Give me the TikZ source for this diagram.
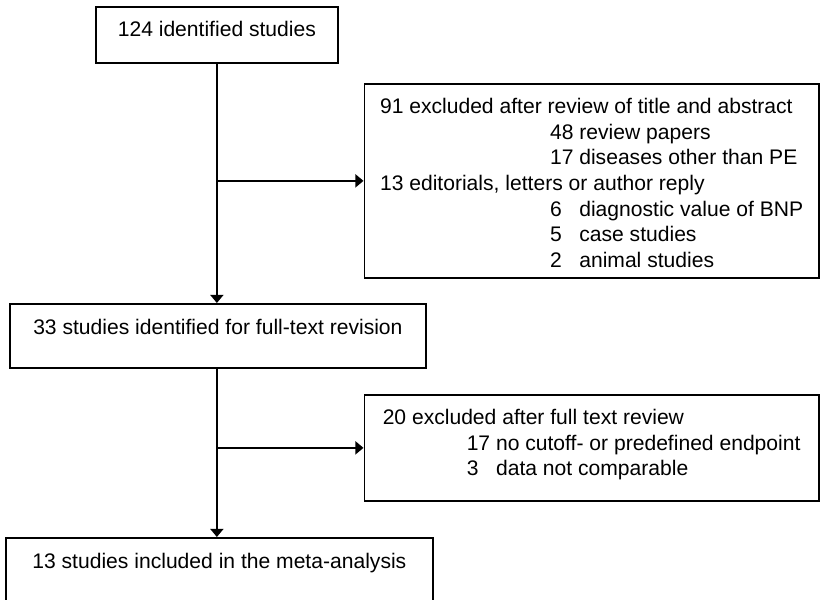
\documentclass[tikz,border=0pt]{standalone}
\usepackage{fontspec}
\setmainfont{Liberation Sans}
\usetikzlibrary{arrows.meta}
\tikzset{stagebox/.style={
            draw,
            line width=1pt,
            inner xsep=0pt,
            inner ysep=0pt,
            anchor=north west,
            font=\fontsize{12pt}{14.6pt}\selectfont
        },
        exclbox/.style={
            stagebox,
            align=left,
            minimum width=9.09cm
        },
        flow/.style={
            line width=1pt,
            -{Triangle[length=4.6pt,width=7.4pt]}
        }
    }

\begin{document}
\begin{tikzpicture}
        \useasboundingbox (0,0) rectangle (16.46,11.98);
        \node[stagebox,minimum width=4.84cm,text height=0.59cm,text depth=0.53cm] at (1.90,11.86) (identified) {124 identified studies};
        % baseline of a multi-line node is its last line
        \node[exclbox,text height=3.67cm,text depth=0.21cm] at (7.27,10.32) (excltitle) {91 excluded after review of title and abstract\\
            \hspace*{3.4cm}48 review papers\\
            \hspace*{3.4cm}17 diseases other than PE\\
            13 editorials, letters or author reply\\
            \hspace*{3.4cm}6\phantom{8} diagnostic value of BNP\\
            \hspace*{3.4cm}5\phantom{8} case studies\\
            \hspace*{3.4cm}2\phantom{8} animal studies};
        \node[stagebox,minimum width=8.32cm,text height=0.61cm,text depth=0.67cm] at (0.18,5.92) (fulltext) {33 studies identified for full-text revision};
        \node[exclbox,text height=1.62cm,text depth=0.50cm] at (7.27,4.10) (exclfull) {20 excluded after full text review\\
            \hspace*{1.68cm}17 no cutoff- or predefined endpoint\\
            \hspace*{1.68cm}3\phantom{7} data not comparable};
        \node[stagebox,minimum width=8.54cm,text height=0.61cm,text depth=1.05cm] at (0.10,1.24) (included) {13 studies included in the meta-analysis};
        % flow lines
        \coordinate (split1) at (identified.south |- excltitle.west);
        \coordinate (split2) at (identified.south |- exclfull.west);
        \draw[flow] (identified.south) -- (identified.south |- fulltext.north);
        \draw[flow] (split1) -- (excltitle.west);
        \draw[flow] (identified.south |- fulltext.south) -- (identified.south |- included.north);
        \draw[flow] (split2) -- (exclfull.west);
    \end{tikzpicture}
\end{document}
